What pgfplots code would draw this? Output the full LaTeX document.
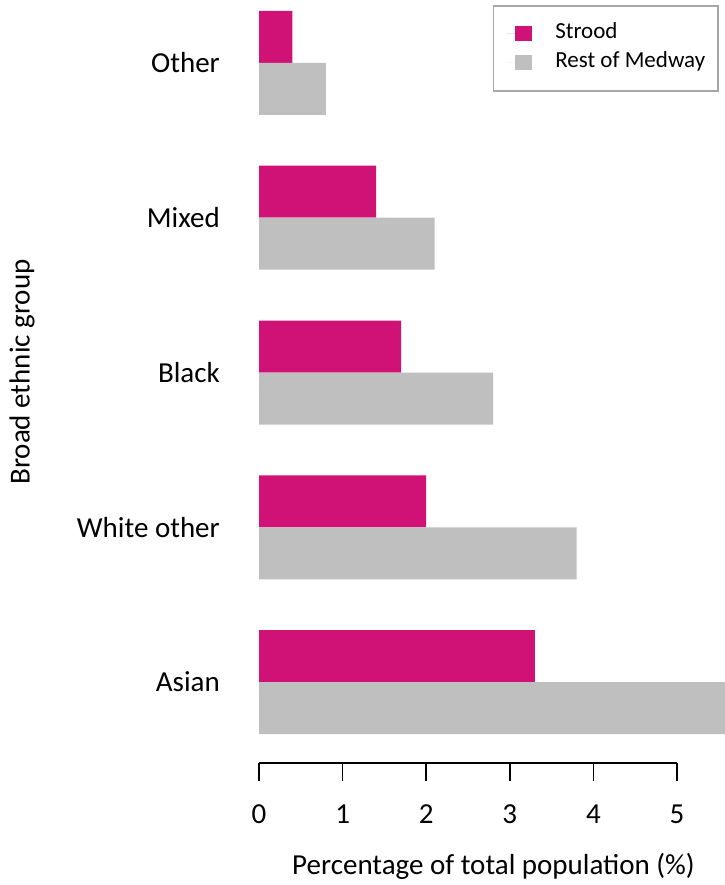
\documentclass[border=0pt]{standalone}
\usepackage{pgfplots}
\pgfplotsset{compat=1.18}
\usepackage{fontspec}
\setmainfont{Carlito}
\definecolor{strood}{RGB}{208,18,118}
\definecolor{medway}{RGB}{191,191,191}
\definecolor{lgray}{RGB}{166,166,166}
\newcommand{\bigf}{\fontsize{29bp}{34bp}\selectfont}
\begin{document}
\begin{tikzpicture}[x=1bp,y=1bp]
\useasboundingbox (0,0) rectangle (725,-885);
\begin{axis}[
  at={(259bp,-763bp)}, anchor=south west,
  scale only axis, width=466bp, height=763bp,
  xbar, bar width=52bp,
  xmin=0, xmax=5.574, ymin=-0.5234, ymax=4.407,
  axis x line*=bottom, axis y line*=left,
  axis line style={draw=none},
  xtick={0,1,2,3,4,5},
  ytick={0,1,2,3,4},
  yticklabels={Asian,White other,Black,Mixed,Other},
  tick align=outside,
  major tick length=18bp,
  xtick style={line width=1.6bp, black},
  ytick style={draw=none},
  xticklabel style={font=\bigf, anchor=north, inner sep=0pt, text height=18.3bp, text depth=0pt, yshift=-24bp},
  yticklabel style={font=\bigf, anchor=east, inner sep=0pt, xshift=-21bp},
  /pgf/number format/assume math mode=true,
  legend style={at={(rel axis cs:0.98712,0.99345)}, anchor=north east,
    draw=lgray, line width=1.6bp, font=\fontsize{23bp}{27bp}\selectfont,
    inner xsep=13bp, inner ysep=18bp, column sep=23bp, row sep=9bp,
    nodes={inner sep=0pt, text height=15bp, text depth=5bp, anchor=west}},
  legend cell align=left,
  legend image code/.code={\path (0bp,0bp) -- (26bp,0bp); \fill[#1] (9bp,-7.5bp) rectangle (26bp,7.5bp);},
]
\addplot[fill=strood, draw=none, bar shift=26bp] coordinates {(3.3,0) (2.0,1) (1.7,2) (1.4,3) (0.4,4)};
\addplot[fill=medway, draw=none, bar shift=-26bp] coordinates {(5.8,0) (3.8,1) (2.8,2) (2.1,3) (0.8,4)};
\legend{Strood, Rest of Medway}
\coordinate (xa) at (axis cs:0,-0.5234);
\coordinate (xb) at (axis cs:5,-0.5234);
\end{axis}
\draw[line width=1.6bp] (xa) -- (xb);
\node[rotate=90, font=\bigf] at (22,-372) {Broad ethnic group};
\node[font=\bigf] at (493.5,-866) {Percentage of total population (\%)};
\end{tikzpicture}
\end{document}
